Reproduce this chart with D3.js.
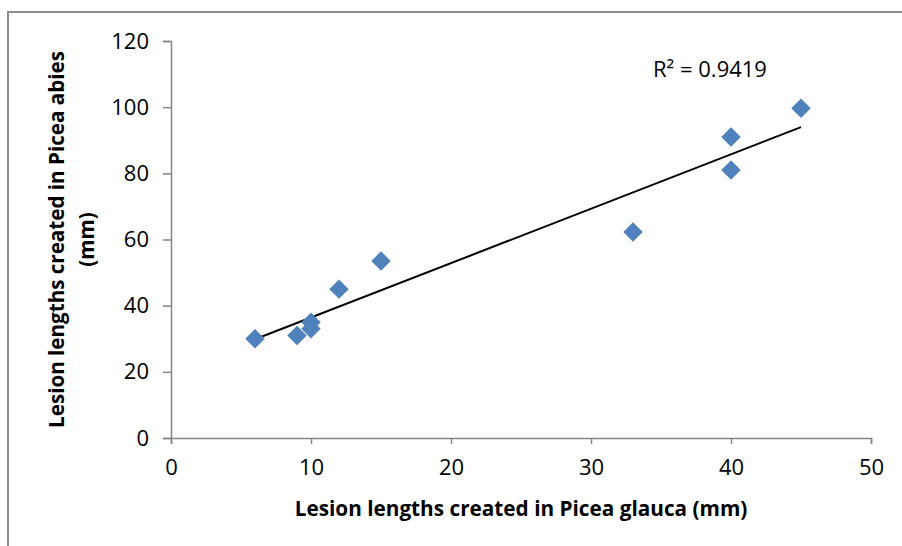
<!DOCTYPE html>
<html>
<head>
<meta charset="utf-8">
<script src="https://cdn.jsdelivr.net/npm/d3@7"></script>
<style>
  body { margin: 0; background: #fff; }
  text { font-family: "Open Sans", "Liberation Sans", sans-serif; fill: #000; }
</style>
</head>
<body>
<div id="chart"></div>
<script>
// lesion lengths (mm)
var glauca = [6, 9, 10, 10, 12, 15, 33, 40, 40, 45];
var abies = [30, 31, 35, 33, 45, 53.5, 62.3, 81, 91, 99.7];
var xTicks = [0, 10, 20, 30, 40, 50];
var yTicks = [0, 20, 40, 60, 80, 100, 120];
var r2Label = "R² = 0.9419";
var xTitle = "Lesion lengths created in Picea glauca (mm)";
var yTitle = ["Lesion lengths created in Picea abies", "(mm)"];

var svgWidth = 902;
var svgHeight = 546;

var margin = { top: 41, right: 31, bottom: 108, left: 171 };
var width = svgWidth - margin.left - margin.right;
var height = svgHeight - margin.top - margin.bottom;

var svg = d3.select("#chart")
    .append("svg")
    .attr("width", svgWidth)
    .attr("height", svgHeight);

// outer frame (cut off at right / bottom)
svg.append("rect")
    .attr("x", 8)
    .attr("y", 12)
    .attr("width", 1000)
    .attr("height", 1000)
    .attr("fill", "none")
    .attr("stroke", "#8c8c8c")
    .attr("stroke-width", 2);

var chartGroup = svg.append("g")
    .attr("transform", `translate(${margin.left}, ${margin.top})`);

var xScale = d3.scaleLinear().domain([0, 50]).range([0, width]);
var yScale = d3.scaleLinear().domain([0, 120]).range([height, 0]);

var bottomAxis = d3.axisBottom(xScale).tickValues(xTicks).tickSize(6).tickPadding(12);
var leftAxis = d3.axisLeft(yScale).tickValues(yTicks).tickSize(8).tickPadding(14);

var xAxis = chartGroup.append("g")
    .attr("transform", `translate(0, ${height})`)
    .call(bottomAxis);
var yAxis = chartGroup.append("g").call(leftAxis);

[xAxis, yAxis].forEach(function(ax) {
    ax.select(".domain").attr("stroke", "#868686").attr("stroke-width", 1.5);
    ax.selectAll(".tick line").attr("stroke", "#868686").attr("stroke-width", 1.5);
    ax.selectAll(".tick text")
        .attr("font-family", "Open Sans")
        .attr("font-size", 22)
        .attr("fill", "#000");
});
xAxis.selectAll(".tick text").attr("dy", "0.85em");

// linear trend line
var mx = d3.mean(glauca), my = d3.mean(abies);
var sxy = d3.sum(glauca, (d, i) => (d - mx) * (abies[i] - my));
var sxx = d3.sum(glauca, d => (d - mx) * (d - mx));
var slope = sxy / sxx;
var intercept = my - slope * mx;
var xExt = d3.extent(glauca);

chartGroup.append("line")
    .attr("x1", xScale(xExt[0]))
    .attr("y1", yScale(slope * xExt[0] + intercept))
    .attr("x2", xScale(xExt[1]))
    .attr("y2", yScale(slope * xExt[1] + intercept))
    .attr("stroke", "#000")
    .attr("stroke-width", 2);

// diamond markers
var diamond = d3.symbol().type(d3.symbolSquare).size(190);
chartGroup.selectAll(".pt")
    .data(glauca)
    .enter()
    .append("path")
    .attr("class", "pt")
    .attr("d", diamond)
    .attr("transform", (d, i) => `translate(${xScale(d)}, ${yScale(abies[i])}) rotate(45)`)
    .attr("fill", "#4f81bd");

// R² label
svg.append("text")
    .attr("x", 710)
    .attr("y", 77)
    .attr("text-anchor", "middle")
    .attr("font-size", 22)
    .text(r2Label);

// axis titles, sized to the reference widths
function fitText(sel, target) {
    var len = sel.node().getComputedTextLength();
    var fs = parseFloat(sel.attr("font-size"));
    sel.attr("font-size", fs * target / len);
}

var xt = svg.append("text")
    .attr("x", margin.left + width / 2)
    .attr("y", 516)
    .attr("text-anchor", "middle")
    .attr("font-weight", "bold")
    .attr("font-size", 18)
    .text(xTitle);
fitText(xt, 453);

var yt = svg.append("g")
    .attr("transform", `translate(0, ${margin.top + height / 2}) rotate(-90)`);
var yt1 = yt.append("text")
    .attr("x", 0)
    .attr("y", 64)
    .attr("text-anchor", "middle")
    .attr("font-weight", "bold")
    .attr("font-size", 18)
    .text(yTitle[0]);
fitText(yt1, 377);
yt.append("text")
    .attr("x", 0)
    .attr("y", 94)
    .attr("text-anchor", "middle")
    .attr("font-weight", "bold")
    .attr("font-size", yt1.attr("font-size"))
    .text(yTitle[1]);
</script>
</body>
</html>
